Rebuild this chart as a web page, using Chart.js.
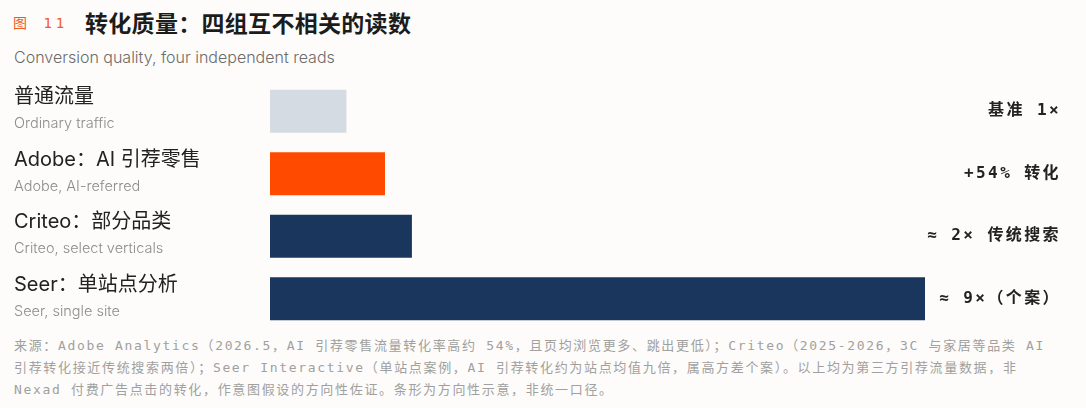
<!DOCTYPE html>
<html>
<head>
<meta charset="utf-8">
<script src="https://cdn.jsdelivr.net/npm/chart.js@4.4.1/dist/chart.umd.min.js"></script>
<style>
  html, body { margin: 0; padding: 0; background: #fdfcfa; }
  body { width: 1086px; height: 408px; position: relative; overflow: hidden; font-family: Inter, "Noto Sans CJK SC", sans-serif; }
  .fig { position: absolute; left: 13px; top: 12px; font-family: "DejaVu Sans Mono", "Noto Sans CJK SC", monospace; font-size: 14px; letter-spacing: 4px; color: #f05a1e; }
  .title { position: absolute; left: 85px; top: 5px; font-size: 23px; font-weight: 700; color: #1c1c1c; letter-spacing: 0.3px; }
  .sub { position: absolute; left: 14px; top: 47px; font-size: 16px; font-weight: 300; color: #6b6b6b; letter-spacing: 0px; }
  #wrap { position: absolute; left: 0; top: 80px; width: 1086px; height: 250px; }
  .note { position: absolute; left: 14px; top: 335px; font-family: "DejaVu Sans Mono", "Noto Sans CJK SC", monospace; font-size: 13px; line-height: 22px; letter-spacing: 1.67px; color: #a0a0a0; white-space: nowrap; }
</style>
</head>
<body>
<div class="fig">图 11</div>
<div class="title">转化质量：四组互不相关的读数</div>
<div class="sub">Conversion quality, four independent reads</div>
<div id="wrap"><canvas id="chart" width="1086" height="250"></canvas></div>
<div class="note">来源：Adobe Analytics（2026.5，AI 引荐零售流量转化率高约 54%，且页均浏览更多、跳出更低）；Criteo（2025-2026，3C 与家居等品类 AI<br>引荐转化接近传统搜索两倍）；Seer Interactive（单站点案例，AI 引荐转化约为站点均值九倍，属高方差个案）。以上均为第三方引荐流量数据，非<br>Nexad 付费广告点击的转化，作意图假设的方向性佐证。条形为方向性示意，非统一口径。</div>
<script>
const labelsZh = ['普通流量', 'Adobe：AI 引荐零售', 'Criteo：部分品类', 'Seer：单站点分析'];
const labelsEn = ['Ordinary traffic', 'Adobe, AI-referred', 'Criteo, select verticals', 'Seer, single site'];
const multiples = [1.05, 1.58, 1.95, 9];
const valueText = ['基准 1×', '+54% 转化', '≈ 2× 传统搜索', '≈ 9×（个案）'];
const barColors = ['#d5dbe2', '#ff4a00', '#1b365d', '#1b365d'];

// left labels + right value notes
const rowText = {
    id: 'rowText',
    afterDatasetsDraw(chart) {
        const ctx = chart.ctx;
        const meta = chart.getDatasetMeta(0);
        ctx.save();
        meta.data.forEach((bar, i) => {
            const y = bar.y;
            ctx.textBaseline = 'middle';
            ctx.textAlign = 'left';
            ctx.letterSpacing = '0px';
            ctx.fillStyle = '#222';
            ctx.font = '20px Inter, "Noto Sans CJK SC", sans-serif';
            ctx.fillText(labelsZh[i], 14, y - 14);
            ctx.fillStyle = '#8c8c8c';
            ctx.font = '300 14.5px Inter, "Noto Sans CJK SC", sans-serif';
            ctx.fillText(labelsEn[i], 14, y + 12.5);
            ctx.textAlign = 'right';
            ctx.fillStyle = '#222';
            ctx.letterSpacing = '2.4px';
            ctx.font = 'bold 16px "DejaVu Sans Mono", "Noto Sans CJK SC", monospace';
            ctx.fillText(valueText[i], 1061, y);
        });
        ctx.restore();
    }
};

const ctx = document.getElementById('chart').getContext('2d');
const convChart = new Chart(ctx, {
    type: 'bar',
    data: {
        labels: labelsZh,
        datasets: [{
            data: multiples,
            backgroundColor: barColors,
            borderWidth: 0,
            barPercentage: 0.69,
            categoryPercentage: 1
        }]
    },
    options: {
        indexAxis: 'y',
        responsive: false,
        animation: false,
        devicePixelRatio: 1,
        layout: {
            padding: { left: 270, right: 161, top: 0, bottom: 0 }
        },
        scales: {
            x: { display: false, min: 0, max: 9 },
            y: { display: false }
        },
        plugins: {
            legend: { display: false },
            tooltip: { enabled: false }
        }
    },
    plugins: [rowText]
});
</script>
</body>
</html>
